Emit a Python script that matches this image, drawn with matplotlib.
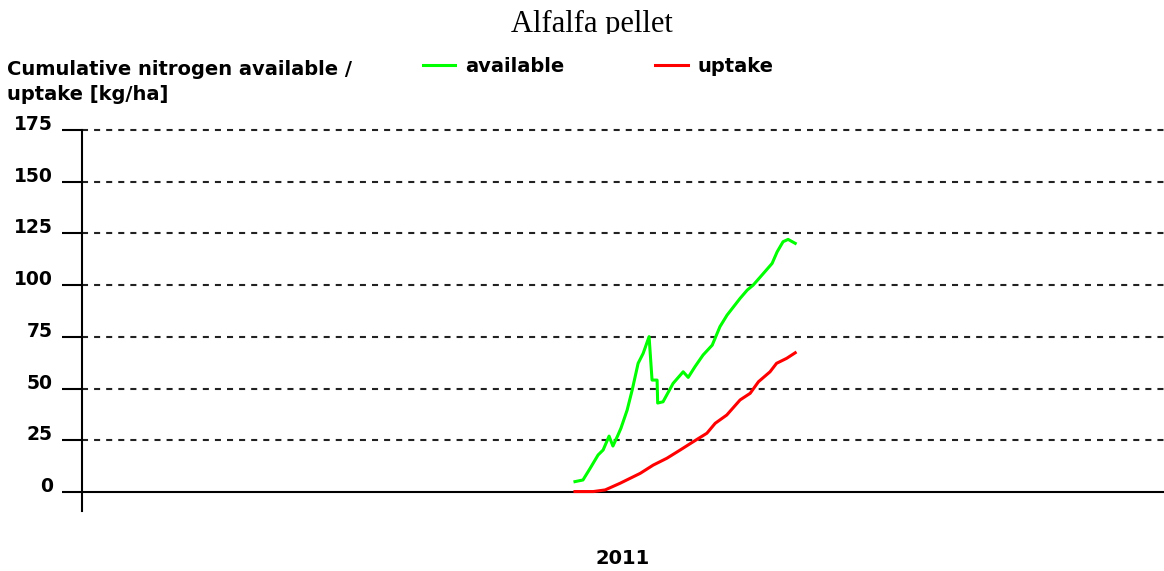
import matplotlib.pyplot as plt
from matplotlib.patches import Rectangle

# day of year 2011
avail_day = [166.3, 169.0, 171.4, 174.1, 175.8, 177.8, 179.1, 180.8, 181.8, 183.9,
             185.6, 187.6, 189.3, 191.3, 192.3, 194.0, 194.2, 196.0, 199.4, 202.8,
             204.5, 206.8, 209.5, 212.6, 215.2, 217.6, 222.0, 224.4, 226.4, 229.4,
             232.8, 234.5, 236.5, 238.2, 240.6]
avail_val = [5.0, 5.8, 11.4, 17.9, 20.3, 27.0, 22.2, 27.5, 30.8, 39.6,
             49.3, 62.2, 67.0, 75.1, 54.1, 54.1, 43.0, 43.6, 52.5, 58.1,
             55.4, 60.6, 66.2, 71.0, 79.9, 85.5, 93.6, 97.6, 100.0, 104.9,
             110.5, 116.1, 121.0, 122.1, 120.2]

uptake_day = [166.3, 172.5, 176.5, 181.5, 188.3, 192.7, 197.3, 201.8, 206.2, 210.8,
              213.6, 217.5, 222.0, 225.4, 228.2, 232.1, 234.3, 237.7, 240.6]
uptake_val = [0.2, 0.2, 1.0, 4.2, 9.0, 13.0, 16.3, 20.3, 24.3, 28.4,
              33.2, 37.2, 44.5, 47.7, 53.3, 58.1, 62.2, 64.6, 67.3]

yticks = [0, 25, 50, 75, 100, 125, 150, 175]
year_label = "2011"

W, H = 1164, 571
fig = plt.figure(figsize=(W / 100, H / 100), dpi=100)
ax = fig.add_axes([82 / W, 1 - 511 / H, 1 - 82 / W, (511 - 130) / H])

for v in yticks[1:]:
    ax.axhline(v, color="#222222", lw=1.5, ls=(0, (2.9, 2.9)), clip_on=False, zorder=1)
ax.axhline(0, color="black", lw=1.5, zorder=2)

ax.plot(avail_day, avail_val, color="#00ff00", lw=2.2, zorder=3, label="available")
ax.plot(uptake_day, uptake_val, color="#ff0000", lw=2.2, zorder=3, label="uptake")

ax.set_xlim(0, 365)
ax.set_ylim(-9.2, 175)
for s in ["top", "right", "bottom"]:
    ax.spines[s].set_visible(False)
ax.spines["left"].set_linewidth(1.5)

ax.set_yticks(yticks)
ax.tick_params(axis="y", length=14.4, width=1.5, pad=6.5, labelsize=13.5)
for lab in ax.get_yticklabels():
    lab.set_fontweight("bold")
    lab.set_verticalalignment("baseline")

ax.set_xticks([182.5], [year_label])
ax.tick_params(axis="x", length=0, pad=27, labelsize=14)
for lab in ax.get_xticklabels():
    lab.set_fontweight("bold")

fig.text(7 / W, 1 - 75 / H, "Cumulative nitrogen available /", fontsize=14,
         fontweight="bold", va="baseline")
fig.text(7 / W, 1 - 100 / H, "uptake [kg/ha]", fontsize=14,
         fontweight="bold", va="baseline")

fig.legend(loc="center left", bbox_to_anchor=(423 / W, 1 - 66 / H), ncol=2,
           frameon=False, borderpad=0, borderaxespad=0, handlelength=1.65,
           handletextpad=0.5, columnspacing=4.7,
           prop={"size": 14, "weight": "bold"})

fig.text(592 / W, 1 - 32 / H, "Alfalfa pellet", family="Liberation Serif",
         fontsize=22, ha="center", va="baseline")
fig.patches.append(Rectangle((450 / W, 1 - 45 / H), 300 / W, 11 / H,
                             transform=fig.transFigure, facecolor="white",
                             edgecolor="none", zorder=10))

fig.savefig("out.png", dpi=100)
